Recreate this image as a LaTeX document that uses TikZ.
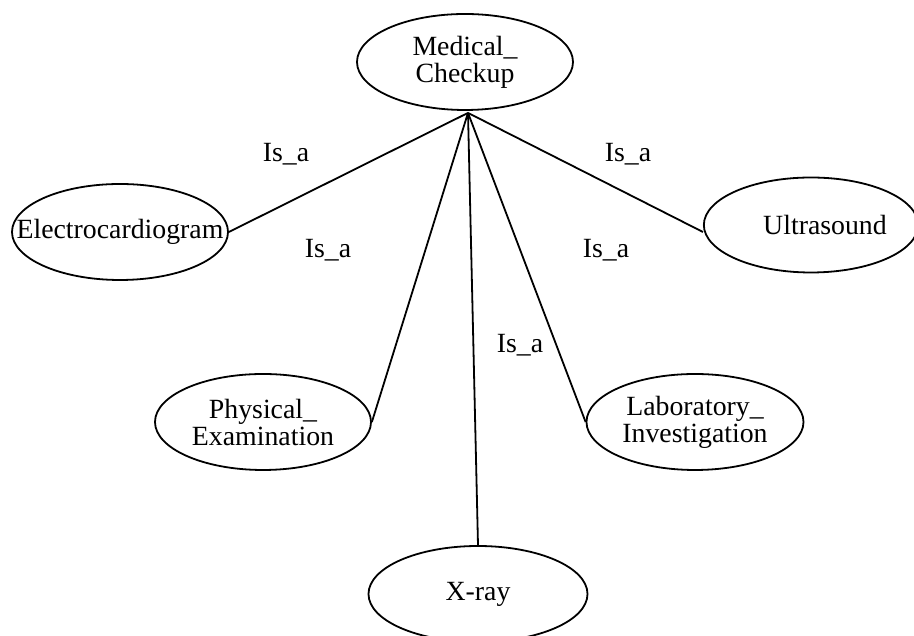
\documentclass[tikz,border=0pt]{standalone}
\usepackage{fontspec}
\setmainfont{Liberation Serif}
\usetikzlibrary{shapes.geometric}
\begin{document}
\begin{tikzpicture}[x=1pt,y=1pt,
  concept/.style={ellipse, draw, line width=1.8pt, inner sep=0pt,
    minimum width=216pt, minimum height=96pt, align=center,
    font=\fontsize{27.8}{27}\selectfont},
  rel/.style={font=\fontsize{27.8}{27}\selectfont, inner sep=0pt},
  link/.style={line width=1.8pt}]
  \useasboundingbox (0,0) rectangle (914,636);
  % concepts
  \node[concept] (med) at (465,574) {Medical\_\\Checkup};
  \node[concept, inner xsep=-40pt] (ecg) at (120,404) {Electrocardiogram};
  \node[concept] (phys) at (263,214) {Physical\_\\Examination};
  \node[concept, minimum width=219pt] (xray) at (478,42) {X-ray};
  \node[concept, minimum width=217pt] (lab) at (695,214) {Laboratory\_\\Investigation};
  \node[concept, minimum width=208pt, minimum height=95pt] (ultra) at (811,411) {\hspace*{28pt}Ultrasound};
  % common starting point of the links
  \coordinate (hub) at ([xshift=3pt,yshift=-2pt]med.south);
  % links
  \draw[link] (hub) -- (ecg.east);
  \draw[link] (hub) -- (phys.east);
  \draw[link] (hub) -- (xray.north);
  \draw[link] (hub) -- (lab.west);
  \draw[link] (hub) -- ([yshift=-7pt]ultra.west);
  % relation labels
  \node[rel, anchor=base] (r1) at (286,474) {Is\_a};
  \node[rel, anchor=base] (r2) at (628,474) {Is\_a};
  \node[rel, anchor=base] (r3) at (328,378) {Is\_a};
  \node[rel, anchor=base] (r4) at (606,378) {Is\_a};
  \node[rel, anchor=base] (r5) at (520,283) {Is\_a};
\end{tikzpicture}
\end{document}
